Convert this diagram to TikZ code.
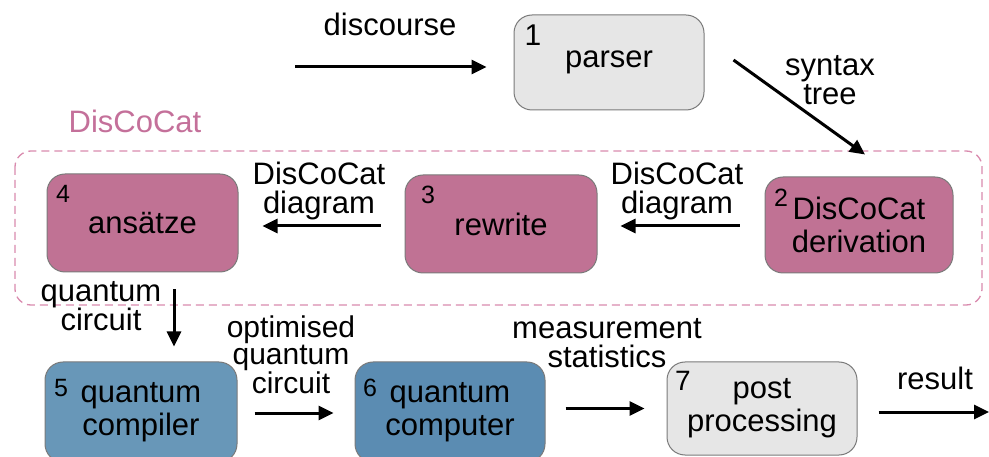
\documentclass[tikz,border=0pt]{standalone}
\usepackage{fontspec}
\setmainfont{Liberation Sans}
\usetikzlibrary{arrows.meta,calc}
\definecolor{pinkfill}{HTML}{C07294}
\definecolor{pinkdash}{HTML}{D98BAE}
\definecolor{pinktext}{HTML}{C4709A}
\definecolor{bluefillA}{HTML}{6897B8}
\definecolor{bluefillB}{HTML}{5B8CB2}
\definecolor{grayfill}{HTML}{E6E6E6}
\definecolor{boxline}{HTML}{7A7A7A}
\tikzset{
  box/.style={draw=boxline, line width=1pt, rounded corners=18pt, align=center,
    font=\fontsize{31}{33}\selectfont, inner sep=0pt},
  graybox/.style={box, fill=grayfill},
  pinkbox/.style={box, fill=pinkfill},
  numlbl/.style={inner sep=0pt, font=\fontsize{25}{25}\selectfont},
  lbl/.style={inner sep=0pt, align=center, font=\fontsize{31}{29}\selectfont},
  arr/.style={line width=3pt, -{Triangle[length=15pt,width=14pt]}},
}
\begin{document}
\begin{tikzpicture}[x=1pt,y=-1pt]
\useasboundingbox (0,0) rectangle (989,457);
% DisCoCat region
\draw[pinkdash, line width=1.3pt, dash pattern=on 8pt off 5pt, rounded corners=16pt]
  (15,151) rectangle (982,305);
\node[inner sep=0pt, text=pinktext, font=\fontsize{31}{31}\selectfont] (dlab) at (135,121) {DisCoCat};
% boxes
\node[graybox, minimum width=190pt, minimum height=95pt] (b1) at (609,62.5) {\raisebox{-4pt}{parser}};
\node[pinkbox, minimum width=188pt, minimum height=96pt] (b2) at (859,225) {DisCoCat\\derivation};
\node[pinkbox, minimum width=192pt, minimum height=98pt] (b3) at (501,224) {rewrite};
\node[pinkbox, minimum width=191pt, minimum height=98pt] (b4) at (142.5,223) {\raisebox{-2pt}{ansätze}};
\node[box, fill=bluefillA, minimum width=192pt, minimum height=100pt] (b5) at (141,412) {quantum\\compiler};
\node[box, fill=bluefillB, minimum width=190pt, minimum height=100pt] (b6) at (450,412) {quantum\\computer};
\node[graybox, minimum width=190pt, minimum height=93pt] (b7) at (762,408.5) {post\\processing};
% numbers
\node[numlbl, font=\fontsize{30}{30}\selectfont] (n1) at (533,35) {1};
\node[numlbl] (n2) at (781,198) {2};
\node[numlbl] (n3) at (428,195) {3};
\node[numlbl] (n4) at (63,194) {4};
\node[numlbl] (n5) at (61,388) {5};
\node[numlbl] (n6) at (370,388) {6};
\node[numlbl, font=\fontsize{28}{28}\selectfont] (n7) at (683,381) {7};
% labels
\node[lbl] (l0) at (390,24) {discourse};
\node[lbl] (l1) at (830,80) {syntax\\tree};
\node[lbl] (l2) at (677,191) {DisCoCat\\diagram};
\node[lbl] (l3) at (319,191) {DisCoCat\\diagram};
\node[lbl] (l4) at (101,306) {quantum\\circuit};
\node[lbl, font=\fontsize{30}{25}\selectfont] (l5) at (291,355) {optimised\\quantum\\circuit};
\node[lbl] (l6) at (607,343) {measurement\\statistics};
\node[lbl] (l7) at (935,378) {result};
% connectors
\coordinate (ds) at (295,67);
\coordinate (re) at (989,412);
\draw[arr, shorten >=27pt] (ds) -- (b1.west |- ds);
\draw[arr] ([xshift=29pt,yshift=2.5pt]b1.east) -- ([xshift=6pt,yshift=22pt]b2.north);
\draw[arr, shorten <=25pt, shorten >=23pt] ([yshift=-1pt]b2.west) -- ([yshift=-2pt]b3.east);
\draw[arr, shorten <=24pt, shorten >=24pt] ([yshift=-2pt]b3.west) -- ([yshift=-3pt]b4.east);
\draw[arr, shorten <=17pt, shorten >=15pt] ([xshift=31.5pt]b4.south) -- ([xshift=33pt]b5.north);
\draw[arr, shorten <=17pt, shorten >=21pt] ([yshift=-1pt]b5.east) -- ([yshift=-1pt]b6.west);
\draw[arr, shorten <=20pt, shorten >=22pt] ([yshift=3.5pt]b6.east) -- (b7.west);
\draw[arr, shorten <=21pt] (b7.east |- re) -- (re);
\end{tikzpicture}
\end{document}
